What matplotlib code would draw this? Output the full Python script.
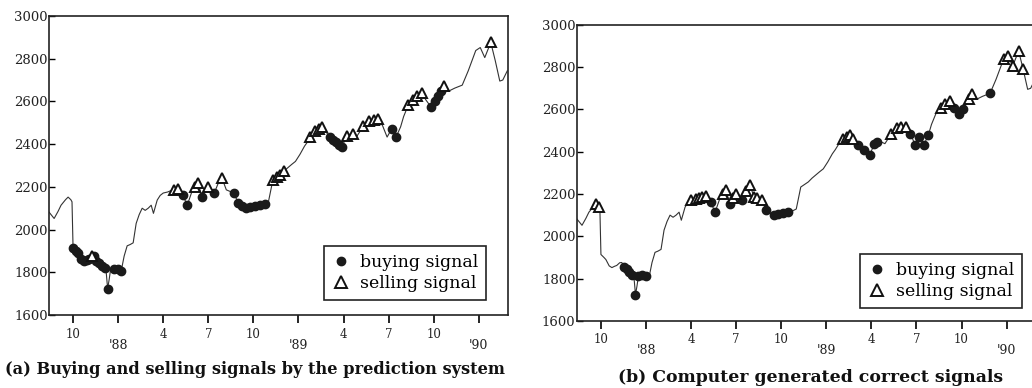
import numpy as np
import matplotlib
matplotlib.use('Agg')
import matplotlib.pyplot as plt
from matplotlib.lines import Line2D

# months counted from Oct 1987 (0 = Oct '87)
t = [-1.59, -1.26, -1.0, -0.8, -0.5, -0.33, -0.15, -0.07, 0.0, 0.2, 0.33, 0.55, 0.73, 0.9,
     1.05, 1.25, 1.39, 1.55, 1.72, 1.9, 2.1, 2.2, 2.3, 2.4, 2.5, 2.75, 3.0, 3.2, 3.4, 3.6,
     3.8, 4.0, 4.2, 4.4, 4.6, 4.8, 5.0, 5.2, 5.35, 5.6, 5.8, 6.0, 6.3, 6.5, 6.7, 7.0, 7.3,
     7.6, 7.9, 8.1, 8.3, 8.6, 8.8, 9.0, 9.2, 9.4, 9.65, 9.9, 10.2, 10.4, 10.7, 11.0, 11.25,
     11.5, 11.8, 12.1, 12.45, 12.75, 13.0, 13.3, 13.55, 13.8, 14.05, 14.3, 14.55, 14.8, 15.1,
     15.4, 15.6, 15.8, 16.1, 16.35, 16.6, 16.8, 17.1, 17.3, 17.5, 17.7, 17.9, 18.2, 18.4,
     18.6, 18.9, 19.1, 19.3, 19.5, 19.7, 20.0, 20.3, 20.6, 20.9, 21.2, 21.5, 21.8, 22.0,
     22.3, 22.6, 22.9, 23.2, 23.5, 23.8, 24.1, 24.3, 24.5, 24.7, 25.0, 25.4, 25.9, 26.3,
     26.6, 26.8, 27.1, 27.4, 27.8, 28.1, 28.4, 28.6, 28.9]
price = [2081, 2052, 2085, 2114, 2140, 2152, 2140, 2130, 1914, 1900, 1890, 1860, 1852, 1858,
         1862, 1875, 1876, 1855, 1843, 1830, 1819, 1805, 1724, 1765, 1814, 1816, 1814, 1805, 1876, 1924,
         1930, 1938, 2029, 2070, 2100, 2090, 2100, 2114, 2076, 2138, 2160, 2171, 2176, 2182, 2186, 2190, 2162,
         2114, 2176, 2200, 2219, 2152, 2180, 2200, 2185, 2171, 2215, 2243, 2186, 2180, 2171, 2124, 2110,
         2100, 2105, 2110, 2114, 2120, 2129, 2233, 2245, 2257, 2275, 2290, 2305, 2319, 2352,
         2390, 2410, 2433, 2462, 2470, 2481, 2460, 2433, 2420, 2410, 2398, 2386, 2438, 2445,
         2448, 2438, 2460, 2486, 2500, 2510, 2515, 2519, 2486, 2433, 2471, 2433, 2481, 2529,
         2581, 2605, 2624, 2638, 2605, 2576, 2600, 2625, 2648, 2671, 2648, 2662, 2676, 2743,
         2800, 2838, 2852, 2805, 2876, 2790, 2695, 2700, 2743]

# signal dates (a) prediction system, (b) correct signals
buy_a = [0.0, 0.2, 0.33, 0.55, 0.73, 0.9, 1.05, 1.39, 1.55, 1.72, 1.9, 2.1, 2.3, 2.75, 3.0, 3.2,
         7.3, 7.6, 8.6, 9.4, 10.7, 11.0, 11.25, 11.5, 11.8, 12.1, 12.45, 12.75,
         17.1, 17.3, 17.5, 17.7, 17.9, 21.2, 21.5, 23.8, 24.1, 24.3, 24.5]
sell_a = [1.25, 6.7, 7.0, 8.1, 8.3, 9.0, 9.9, 13.3, 13.55, 13.8, 14.05, 15.8, 16.1, 16.35, 16.6,
          18.2, 18.6, 19.3, 19.7, 20.0, 20.3, 22.3, 22.6, 22.9, 23.2, 24.7, 27.8]
buy_b = [1.55, 1.72, 1.9, 2.1, 2.3, 2.5, 2.75, 3.0, 7.3, 7.6, 8.6, 9.4, 11.0, 11.5, 11.8, 12.1,
         12.45, 17.1, 17.5, 17.9, 18.2, 18.4, 20.6, 20.9, 21.2, 21.5, 21.8, 23.5, 23.8, 24.1, 25.9]
sell_b = [-0.33, -0.15, 6.0, 6.3, 6.5, 6.7, 7.0, 8.1, 8.3, 8.8, 9.0, 9.65, 9.9, 10.2, 10.4, 10.7,
          16.1, 16.35, 16.6, 16.8, 19.3, 19.7, 20.0, 20.3, 22.6, 22.9, 23.2, 24.5, 24.7,
          26.8, 27.1, 27.4, 27.8, 28.1]

month_ticks = [0, 6, 9, 12, 18, 21, 24]
month_labels = ['10', '4', '7', '10', '4', '7', '10']
year_ticks = [3, 15, 27]
year_labels = ["'88", "'89", "'90"]
captions = ['(a) Buying and selling signals by the prediction system',
            '(b) Computer generated correct signals']

t = np.array(t)
price = np.array(price)

plt.rcParams['font.family'] = ['DejaVu Serif']
fig = plt.figure(figsize=(10.32, 3.88), dpi=100)
ax1 = fig.add_axes([0.0475, 0.188, 0.4448, 0.771])
ax2 = fig.add_axes([0.559, 0.173, 0.4448, 0.763])

for ax, buys, sells in [(ax1, buy_a, sell_a), (ax2, buy_b, sell_b)]:
    ax.plot(t, price, color='#333333', lw=0.8, zorder=2)
    bi = np.searchsorted(t, buys)
    si = np.searchsorted(t, sells)
    ax.plot(t[bi], price[bi], 'o', ms=6, mfc='#1a1a1a', mec='#1a1a1a', ls='none', zorder=3)
    ax.plot(t[si], price[si], '^', ms=7, mfc='white', mec='#111111', mew=1.4, ls='none', zorder=4)
    ax.set_xlim(-1.6, 28.95)
    ax.set_ylim(1600, 3000)
    ax.set_yticks([1600, 1800, 2000, 2200, 2400, 2600, 2800, 3000])
    ax.tick_params(axis='y', direction='in', length=4, width=1, pad=1, labelsize=9.5,
                   labelcolor='#222222')
    ax.set_xticks(month_ticks)
    ax.set_xticklabels(month_labels)
    ax.set_xticks(year_ticks, minor=True)
    ax.set_xticklabels(year_labels, minor=True)
    ax.tick_params(axis='x', which='major', direction='out', length=6, width=1.2, pad=3,
                   labelsize=8.5, labelcolor='#222222')
    ax.tick_params(axis='x', which='minor', direction='out', length=6, width=1.2, pad=11,
                   labelsize=9, labelcolor='#222222')
    for sp in ax.spines.values():
        sp.set_linewidth(1.2)
        sp.set_color('#222222')
    handles = [Line2D([], [], marker='o', ls='none', ms=6, mfc='#1a1a1a', mec='#1a1a1a'),
               Line2D([], [], marker='^', ls='none', ms=8, mfc='white', mec='#111111', mew=1.4)]
    anchor = (0.952, 0.05) if ax is ax1 else (0.969, 0.044)
    leg = ax.legend(handles, ['buying signal', 'selling signal'], loc='lower right',
                    bbox_to_anchor=anchor, borderaxespad=0, fancybox=False, fontsize=12.5,
                    handlelength=1, handletextpad=0.6, borderpad=0.45, labelspacing=0.25,
                    framealpha=1)
    leg.get_frame().set_edgecolor('#222222')
    leg.get_frame().set_linewidth(1.2)

fig.text(5 / 1032, 1 - 369 / 388, captions[0], fontsize=11.7, fontweight='bold', va='center',
         ha='left', color='#111111')
fig.text(618 / 1032, 1 - 378 / 388, captions[1], fontsize=12.4, fontweight='bold', va='center',
         ha='left', color='#111111')

fig.savefig('out.png', dpi=100)
